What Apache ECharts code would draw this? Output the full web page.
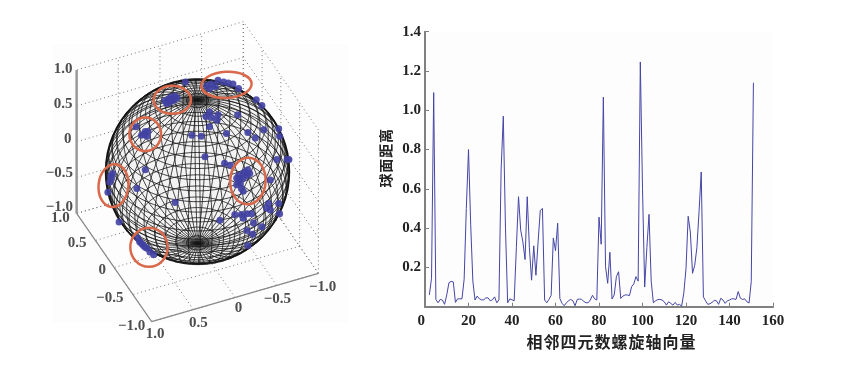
<!DOCTYPE html>
<html><head><meta charset="utf-8">
<style>html,body{margin:0;padding:0;background:#fff}#c{width:856px;height:369px}</style>
<script src="https://cdn.jsdelivr.net/npm/echarts@6/dist/echarts.min.js"></script>
</head><body><div id="c"></div>
<script>
// ---------- right chart data ----------
const firstIndex = 2;
const distances = [
.06,.145,1.09,.037,.02,.037,.034,.012,.06,.122,.129,.126,.022,.04,.04,.04,.14,.5,.8,.42,
.13,.034,.054,.04,.035,.035,.045,.045,.03,.035,.05,.02,.035,.7,.97,.4,.02,.04,.035,.03,
.3,.56,.39,.33,.24,.56,.3,.135,.31,.16,.33,.49,.5,.034,.02,.037,.058,.35,.285,.425,
.042,.017,.005,.02,.03,.037,.03,.005,.037,.039,.037,.027,.02,.02,.034,.058,.04,.034,.456,.318,
1.067,.204,.119,.277,.039,.06,.153,.178,.042,.054,.06,.06,.056,.102,.116,.153,.13,1.246,.6,.1,
.3,.47,.13,.02,.03,.036,.037,.034,.025,.008,.025,.017,.008,.022,.008,.012,.003,.07,.195,.46,
.38,.17,.21,.3,.485,.686,.05,.03,.012,.015,.022,.032,.03,.012,.043,.034,.017,.03,.034,.04,
.04,.037,.077,.043,.037,.04,.025,.019,.128,1.14];
const xName = '相\u200a邻\u200a四\u200a元\u200a数\u200a螺\u200a旋\u200a轴\u200a向\u200a量';
const yName = '球\u200a面\u200a距\u200a离';

// ---------- left chart data (view-plane units, sphere radius = 1) ----------
const spherePoints = [
[-.35,.76],[-.31,.78],[-.28,.80],[-.24,.81],[-.22,.79],[-.27,.76],[-.30,.74],[-.33,.73],[-.25,.77],[-.29,.77],
[-.13,.96],[.10,.92],[.15,.94],[.22,.98],[.28,.96],[.33,.95],[.38,.94],[.44,.89],[.13,.89],[.19,.91],
[-.56,.43],[-.53,.43],[-.60,.39],[-.54,.38],[-.66,.48],[-.57,.40],
[-.91,-.02],[-.93,-.05],[-.94,-.11],[-.92,-.07],[-.96,-.22],
[-.56,.02],[-.65,-.18],[-.84,-.54],[-.24,-.33],[-.06,.39],[.04,.38],[.08,.16],
[-.64,-.71],[-.62,-.75],[-.58,-.79],[-.54,-.82],[-.51,-.86],[-.47,-.89],[-.60,-.77],[-.56,-.81],
[.09,.59],[.13,.64],[.15,.58],[.22,.61],[.21,.55],[.13,.48],[.43,.61],[.31,.41],[.54,.42],[.62,.36],
[.63,.77],[.69,.71],[.71,.45],[.87,.46],[.88,.38],[.96,.13],[.98,.13],[.85,.13],[.29,.09],[.35,.07],
[.54,.02],[.49,-.02],[.42,-.07],[.53,-.04],[.46,-.13],[.42,-.14],[.47,-.18],[.49,-.21],[.56,-.02],[.44,-.09],[.51,0],[.46,-.07],[.49,-.07],[.44,-.04],
[.78,-.09],[.76,-.34],[.78,-.41],[.74,-.39],[.87,-.34],[.88,-.45],[.40,-.46],[.47,-.46],[.53,-.45],[.58,-.45],[.49,-.50],
[.24,-.52],[.60,-.55],[.69,-.59],[.53,-.63],[.59,-.67],[.54,-.79]];
// centre u, centre v, radius u, radius v, tilt (rad)
const rings = [
[.31,.93,.27,.14,.05],[-.27,.77,.20,.15,0],[-.56,.40,.17,.18,0],
[-.90,-.15,.16,.23,-.1],[-.52,-.81,.20,.21,0],[.54,-.10,.19,.25,-.05]];
const boxLabels = [
['1.0',-1.44,1.10],['0.5',-1.44,.725],['0',-1.39,.35],['\u22120.5',-1.48,-.02],['\u22121.0',-1.48,-.375],
['1.0',-1.47,-.50],['0.5',-1.29,-.77],['0',-1.02,-1.05],['\u22120.5',-.94,-1.35],['\u22121.0',-.705,-1.65],
['1.0',-.455,-1.74],['0.5',.01,-1.62],['0',.44,-1.46],['\u22120.5',.855,-1.37],['\u22121.0',1.34,-1.24]];
const boxTicks = [-1,-.5,0,.5,1];
const viewX = [-.893,-.402,0];   // how x,y,z map to horizontal view axis
const viewY = [-.259,.580,.768]; // how x,y,z map to vertical view axis
const meridianCount = 48, parallelCount = 26;
const panelExtent = [-1.55,1.37,1.62,-1.62];

function project(p){return [viewX[0]*p[0]+viewX[1]*p[1]+viewX[2]*p[2], viewY[0]*p[0]+viewY[1]*p[1]+viewY[2]*p[2]];}
const gap=[NaN,NaN];
function polyline(a,b){return [project(a),project(b),gap];}

// dotted walls + floor
let dotted=[];
boxTicks.forEach(t=>{
  dotted.push(...polyline([t,1,-1],[t,1,1]),...polyline([-1,1,t],[1,1,t]));
  dotted.push(...polyline([-1,t,-1],[-1,t,1]),...polyline([-1,-1,t],[-1,1,t]));
  dotted.push(...polyline([t,-1,-1],[t,1,-1]),...polyline([-1,t,-1],[1,t,-1]));
});
const solidBase=[project([1,1,-1]),project([1,-1,-1]),project([-1,-1,-1])];
const zAxisLine=[project([1,1,-1]),project([1,1,1])];
// sphere mesh
let mesh=[];
for(let m=0;m<meridianCount;m++){
  const lon=m/meridianCount*2*Math.PI;
  for(let k=0;k<=72;k++){
    const lat=-Math.PI/2+k/72*Math.PI;
    mesh.push(project([Math.cos(lat)*Math.cos(lon),Math.cos(lat)*Math.sin(lon),Math.sin(lat)]));
  }
  mesh.push(gap);
}
for(let j=1;j<parallelCount;j++){
  const lat=-Math.PI/2+j/parallelCount*Math.PI;
  for(let k=0;k<=120;k++){
    const lon=k/120*2*Math.PI;
    mesh.push(project([Math.cos(lat)*Math.cos(lon),Math.cos(lat)*Math.sin(lon),Math.sin(lat)]));
  }
  mesh.push(gap);
}
const serif='"Liberation Serif","DejaVu Serif",serif';
const cjk='"Noto Sans CJK SC","Noto Sans CJK JP",sans-serif';
const lineBase={type:'line',xAxisIndex:0,yAxisIndex:0,showSymbol:false,silent:true,animation:false,connectNulls:false};

const chart=echarts.init(document.getElementById('c'),null,{renderer:'canvas'});
chart.setOption({
 animation:false,backgroundColor:'#fff',
 grid:[
  {left:10.83,top:3.67,width:373.33,height:336,show:false},
  {left:425,top:31.7,width:348,height:275,show:true,backgroundColor:'#fdfdfd',borderWidth:0}
 ],
 xAxis:[
  {gridIndex:0,type:'value',min:-2,max:2,show:false},
  {gridIndex:1,type:'value',min:0,max:160,interval:20,name:xName,nameLocation:'middle',nameGap:25,
   nameTextStyle:{fontFamily:cjk,fontWeight:'bold',fontSize:16,color:'#222',padding:[0,0,0,24]},
   axisLine:{lineStyle:{color:'#808080',width:2}},axisTick:{show:true,inside:true,length:4,lineStyle:{color:'#808080'}},
   splitLine:{show:false},
   axisLabel:{margin:7,fontFamily:serif,fontWeight:'bold',fontSize:15,color:'#222',alignMinLabel:'right',showMinLabel:true}}
 ],
 yAxis:[
  {gridIndex:0,type:'value',min:-1.8,max:1.8,show:false},
  {gridIndex:1,type:'value',min:0,max:1.4,interval:.2,name:yName,nameLocation:'middle',nameRotate:90,nameGap:32,
   nameTextStyle:{fontFamily:cjk,fontWeight:'bold',fontSize:14,color:'#222',padding:[0,0,0,22]},
   axisLine:{show:true,lineStyle:{color:'#808080',width:2}},axisTick:{show:true,inside:true,length:4,lineStyle:{color:'#808080'}},
   splitLine:{show:false},
   axisLabel:{margin:4,fontFamily:serif,fontWeight:'bold',fontSize:15,color:'#222',
    formatter:v=>v===0?'':v.toFixed(1)}}
 ],
 series:[
  {type:'custom',xAxisIndex:0,yAxisIndex:0,silent:true,animation:false,z:0,coordinateSystem:'cartesian2d',
   data:[panelExtent],
   renderItem:(p,api)=>{const a=api.coord([api.value(0),api.value(1)]),b=api.coord([api.value(2),api.value(3)]);
     return {type:'rect',shape:{x:a[0],y:a[1],width:b[0]-a[0],height:b[1]-a[1]},style:{fill:'#fdfdfd'}};},
   encode:{x:[0,2],y:[1,3]}},
  {...lineBase,data:dotted,z:1,lineStyle:{color:'#777',width:1,type:[1,3]}},
  {...lineBase,data:solidBase,z:2,lineStyle:{color:'#8a8a8a',width:1.2}},
  {...lineBase,data:zAxisLine,z:2,lineStyle:{color:'#999',width:2.5}},
  {type:'custom',xAxisIndex:0,yAxisIndex:0,silent:true,animation:false,z:3,data:[[0,0,.985]],
   renderItem:(p,api)=>{const c=api.coord([api.value(0),api.value(1)]),s=api.size([api.value(2),api.value(2)]);
     return {type:'ellipse',shape:{cx:c[0],cy:c[1],rx:s[0],ry:s[1]},style:{fill:'#f3f3f3',stroke:'#111',lineWidth:1.6}};}},
  {...lineBase,data:mesh,z:4,lineStyle:{color:'#151515',width:.8}},
  {type:'scatter',xAxisIndex:0,yAxisIndex:0,silent:true,animation:false,z:5,data:spherePoints,symbolSize:7,itemStyle:{color:'#4141a3',opacity:.9}},
  {type:'custom',xAxisIndex:0,yAxisIndex:0,silent:true,animation:false,z:6,data:rings,
   renderItem:(p,api)=>{const c=api.coord([api.value(0),api.value(1)]),s=api.size([api.value(2),api.value(3)]);
     return {type:'ellipse',x:c[0],y:c[1],rotation:api.value(4),shape:{cx:0,cy:0,rx:s[0],ry:s[1]},style:{fill:'transparent',stroke:'#d9694a',lineWidth:2.5}};}},
  {type:'scatter',xAxisIndex:0,yAxisIndex:0,silent:true,animation:false,z:7,symbolSize:0,
   data:boxLabels.map(l=>({value:[l[1],l[2]],name:l[0]})),
   label:{show:true,position:'inside',formatter:'{b}',fontFamily:serif,fontWeight:'bold',fontSize:15,color:'#222'}},
  {type:'line',xAxisIndex:1,yAxisIndex:1,showSymbol:false,silent:true,animation:false,z:3,
   data:distances.map((v,i)=>[firstIndex+i,v]),lineStyle:{color:'#4545a5',width:1}}
 ]
});
</script></body></html>
